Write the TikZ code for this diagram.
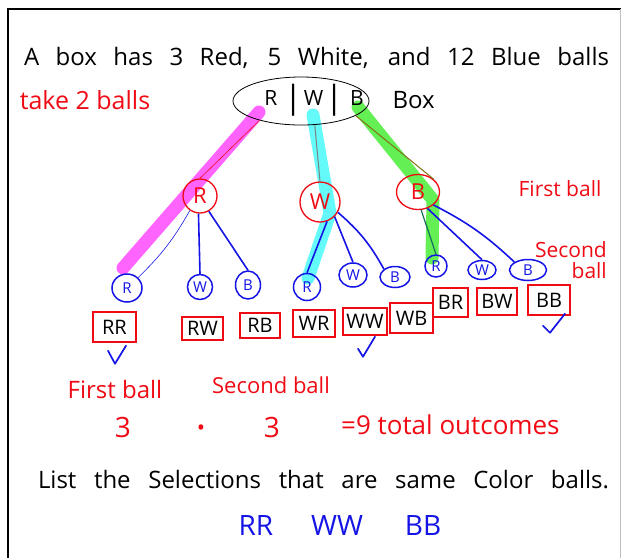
\documentclass[tikz,border=0pt]{standalone}
\usepackage{fontspec}
\setmainfont{Open Sans}
\usetikzlibrary{shapes.geometric,calc}

\definecolor{inkred}{RGB}{240,10,20}
\definecolor{inkblue}{RGB}{20,20,230}
\definecolor{inkbrown}{RGB}{130,110,20}
\definecolor{inkteal}{RGB}{20,110,90}
\definecolor{hlpink}{RGB}{255,100,255}
\definecolor{hlcyan}{RGB}{100,250,250}
\definecolor{hlgreen}{RGB}{100,240,85}

\newcommand{\fs}[1]{\fontsize{#1}{#1}\selectfont}

\tikzset{
  firstball/.style={draw=inkred, text=inkred, ellipse, line width=1.3pt, inner sep=0pt, font=\fs{22}},
  secondball/.style 2 args={draw=inkblue, text=inkblue, ellipse, line width=1.5pt,
    minimum width=#1, minimum height=#2, inner sep=0pt, font=\fs{15}},
  outcome/.style 2 args={draw=inkred, line width=1.4pt, minimum width=#1,
    minimum height=#2, inner sep=0pt, font=\fs{20}},
  branch/.style={inkblue, line width=1.6pt},
  marker/.style={line width=13pt, line cap=round, line join=round},
  tick/.style={inkblue, line width=1.7pt, line cap=round, line join=round},
  redtxt/.style={text=inkred},
}

\begin{document}
\begin{tikzpicture}[x=1pt,y=-1pt]
\useasboundingbox (0,0) rectangle (621,558);
\draw[line width=2pt] (8,558) -- (8,9) -- (621,9);
\draw[black!25, line width=0.8pt] (620,9) -- (620,558);

% highlighted paths RR, WW, BB
\coordinate (pinkA) at (259,112);
\coordinate (pinkB) at (123,268);
\coordinate (cyanA) at (313,115);
\coordinate (cyanB) at (330,213);
\coordinate (cyanC) at (308,278);
\coordinate (greenA) at (358,107);
\coordinate (greenB) at (433,200);
\coordinate (greenC) at (432,258);
\draw[marker, hlpink] (pinkA) -- (pinkB);
\draw[marker, hlcyan] (cyanA) -- (cyanB) -- (cyanC);
\draw[marker, hlgreen] (greenA) -- (greenB) -- (greenC);

\node (title) at (316.5,58) {\fs{24}\makebox[585pt][s]{A box has 3 Red, 5 White, and 12 Blue balls}};
\node[redtxt, font=\fs{25}] (take) at (85,100) {take 2 balls};

\node[draw, ellipse, line width=0.8pt, minimum width=136pt, minimum height=48pt] (box) at (301,101) {};
\node[font=\fs{21}] (boxlbl) at (314,100)
  {R\hspace{7pt}\raisebox{-3pt}{\fs{32}|}\hspace{2pt}W\hspace{2pt}\raisebox{-3pt}{\fs{32}|}\hspace{7pt}B};
\node[font=\fs{24}, anchor=west] (boxword) at (389,100) {Box};

% first draw
\node[firstball, minimum size=34pt] (R1) at (200,196) {R};
\node[firstball, minimum size=40pt] (W1) at (320,202) {W};
\node[firstball, minimum width=43pt, minimum height=35pt] (B1) at (418,192) {B};

% second draw
\node[secondball={30pt}{28pt}] (rr) at (127,288) {R};
\node[secondball={25pt}{25pt}] (rw) at (200,287) {W};
\node[secondball={25pt}{28pt}] (rb) at (248,285) {B};
\node[secondball={27pt}{27pt}] (wr) at (307,287) {R};
\node[secondball={28pt}{24pt}] (ww) at (353,275) {W};
\node[secondball={30pt}{21pt}] (wb) at (395,277) {B};
\node[secondball={22pt}{22pt}] (br) at (436,266) {R};
\node[secondball={28pt}{19pt}] (bw) at (482,270) {W};
\node[secondball={37pt}{21pt}] (bb) at (528,270) {B};

\draw[inkred, line width=0.6pt] (box.205) -- (R1.north);
\draw[gray, line width=1pt] (box.-60) -- (W1.north);
\draw[inkbrown, line width=1pt] (box.-15) -- (B1.north east);

\draw[inkblue, line width=0.6pt] (R1.235) to[bend left=8] (rr.north east);
\draw[branch] (R1.265) -- (rw.north);
\draw[branch] (R1.-60) -- (rb.north);
\draw[branch] (W1.-70) -- (wr.north);
\draw[branch] (W1.-45) -- (ww.north);
\draw[branch] (W1.-30) to[bend left=10] (wb.north west);
\draw[inkteal, line width=1.2pt] (B1.-80) -- (br.north);
\draw[branch] (B1.-60) -- (bw.north);
\draw[branch] (B1.-40) to[bend left=8] (bb.north west);

\node[redtxt, font=\fs{21}] (firsthead) at (560,189) {First ball};
\node[redtxt, font=\fs{21}, align=right, anchor=east, inner sep=0pt] (secondhead) at (607,260)
  {\fontsize{21}{27}\selectfont Second\\ball};

% outcomes
\node[outcome={43pt}{30pt}] (oRR) at (114.5,327) {RR};
\node[outcome={41pt}{23pt}] (oRW) at (202.5,328.5) {RW};
\node[outcome={40pt}{25pt}] (oRB) at (260,325.5) {RB};
\node[outcome={42pt}{27pt}] (oWR) at (314,323.5) {WR};
\node[outcome={44pt}{27pt}] (oWW) at (365,321.5) {WW};
\node[outcome={43pt}{30pt}] (oWB) at (411.5,318) {WB};
\node[outcome={35pt}{29pt}] (oBR) at (450.5,302.5) {BR};
\node[outcome={40pt}{27pt}] (oBW) at (497,301.5) {BW};
\node[outcome={42pt}{30pt}] (oBB) at (549,300) {BB};

\draw[tick] ($(oRR.south)+(-6.5,8)$) -- ++(7,13) -- ++(11,-18);
\draw[tick] ($(oWW.south)+(-7,13)$) -- ++(5,8) -- ++(12,-20);
\draw[tick] ($(oBB.south)+(-6,10)$) -- ++(7,7) -- ++(15,-19);

% counting
\node[redtxt, font=\fs{24}] (firstlbl) at (115,389) {First ball};
\node[redtxt, font=\fs{22}] (secondlbl) at (271,385) {Second ball};
\node[redtxt, font=\fs{28}] (n1) at (123,427) {3};
\node[redtxt, font=\fs{22}] (times) at (201,430) {\textbullet};
\node[redtxt, font=\fs{28}] (n2) at (272,427) {3};
\node[redtxt, font=\fs{26}, anchor=west, inner sep=0pt] (total) at (341,425) {=9 total outcomes};

\node (listline) at (323.5,480) {\fs{24}\makebox[571pt][s]{List the Selections that are same Color balls.}};
\node[text=inkblue, font=\fs{28}] (sameR) at (256,525) {RR};
\node[text=inkblue, font=\fs{28}] (sameW) at (337,525) {WW};
\node[text=inkblue, font=\fs{28}] (sameB) at (423,525) {BB};
\end{tikzpicture}
\end{document}
